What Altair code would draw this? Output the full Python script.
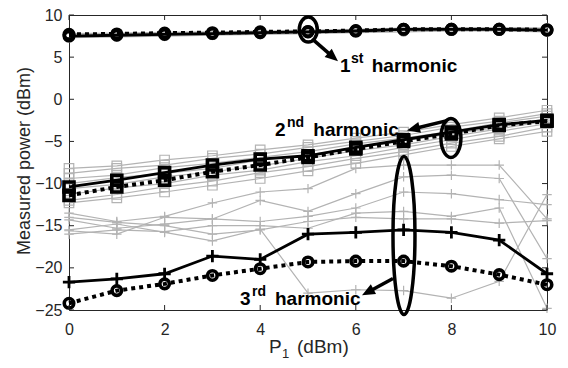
import math
import altair as alt
import pandas as pd

FONT = "Liberation Sans"
GREY = "#b3b3b3"
INK = "#262626"

# ---------------- data ----------------
P1 = [0, 1, 2, 3, 4, 5, 6, 7, 8, 9, 10]
X_TICKS = [0, 2, 4, 6, 8, 10]
Y_TICKS = [-25, -20, -15, -10, -5, 0, 5, 10]

H1_SOLID = [7.5, 7.6, 7.7, 7.8, 7.9, 8.0, 8.1, 8.3, 8.3, 8.3, 8.2]
H1_DOTTED = [7.7, 7.75, 7.85, 7.9, 8.0, 8.05, 8.15, 8.3, 8.3, 8.3, 8.25]
H2_SOLID = [-10.4, -9.6, -8.7, -7.8, -7.1, -6.7, -5.7, -4.8, -3.9, -3.0, -2.5]
H2_DOTTED = [-11.4, -10.4, -9.6, -8.6, -7.8, -6.9, -5.9, -5.0, -4.1, -3.1, -2.6]
H3_SOLID = [-21.7, -21.3, -20.7, -18.6, -19.0, -16.0, -15.8, -15.5, -15.8, -16.7, -20.7]
H3_DOTTED = [-24.2, -22.7, -21.9, -20.9, -20.1, -19.3, -19.2, -19.2, -19.8, -20.8, -22.0]

H1_GREY = [
    [7.3, 7.4, 7.5, 7.6, 7.7, 7.8, 7.9, 8.0, 8.1, 8.1, 8.0],
    [7.6, 7.7, 7.8, 7.9, 8.0, 8.1, 8.2, 8.35, 8.4, 8.4, 8.3],
    [7.8, 7.85, 7.95, 8.0, 8.1, 8.2, 8.3, 8.45, 8.5, 8.5, 8.45],
    [7.4, 7.5, 7.6, 7.7, 7.8, 7.9, 8.0, 8.2, 8.2, 8.2, 8.1],
]
H2_GREY = [
    [-8.2, -7.9, -7.2, -6.7, -6.0, -5.4, -4.6, -3.9, -3.0, -2.2, -1.3],
    [-8.8, -8.2, -7.8, -7.0, -6.5, -5.7, -5.0, -4.3, -3.3, -2.6, -1.7],
    [-9.4, -9.0, -8.1, -7.6, -6.9, -6.2, -5.3, -4.6, -3.8, -2.8, -2.0],
    [-10.0, -9.3, -8.8, -8.2, -7.2, -6.6, -5.8, -4.9, -4.1, -3.3, -2.3],
    [-10.6, -10.1, -9.2, -8.6, -7.9, -7.0, -6.1, -5.4, -4.4, -3.5, -2.6],
    [-11.3, -10.5, -10.0, -9.0, -8.4, -7.4, -6.7, -5.7, -4.8, -3.8, -2.9],
    [-12.0, -11.3, -10.4, -9.7, -8.7, -8.0, -7.0, -6.2, -5.2, -4.4, -3.3],
    [-12.3, -11.7, -11.0, -10.2, -9.4, -8.5, -7.6, -6.6, -5.6, -4.7, -3.8],
]
H3_GREY = [
    [-13.5, -14.5, -13.9, -12.3, -11.0, -10.6, -8.2, -7.8, -7.8, -7.8, -14.2],
    [-14.3, -15.3, -14.8, -14.2, -12.0, -13.3, -11.2, -9.2, -9.0, -9.4, -18.9],
    [-15.5, -14.8, -15.8, -16.8, -15.4, -23.0, -22.6, -22.7, -23.6, -21.6, -11.3],
    [-15.6, -16.0, -14.0, -14.2, -14.5, -13.9, -12.9, -11.0, -11.2, -11.9, -12.5],
    [-16.0, -15.5, -15.7, -15.0, -15.0, -15.3, -13.5, -13.3, -13.9, -12.9, -24.8],
    [-14.0, -14.6, -15.0, -16.0, -15.5, -14.5, -14.0, -14.2, -14.2, -14.7, -14.4],
]

# annotations (data coordinates)
ANN_NUM = ["1", "2", "3"]
ANN_SUP = ["st", "nd", "rd"]
ANN_NUM_X = [5.669, 4.310, 3.577]
ANN_SUP_X = [5.900, 4.560, 3.827]
ANN_WORD_X = [6.333, 5.111, 4.310]
ANN_Y = [3.29, -4.32, -24.43]
ANN_SUP_Y = [4.32, -3.29, -23.37]

ELL_X = [5.006, 7.99, 7.008]
ELL_Y = [8.27, -4.58, -16.17]
ELL_RX = [9, 10, 11]
ELL_RY = [12.5, 19.5, 79]

ARR_X = [5.105, 7.908, 6.778]
ARR_Y = [7.07, -2.53, -21.26]
ARR_X2 = [5.628, 7.071, 6.13]
ARR_Y2 = [4.50, -3.70, -23.26]

# ---------------- layout ----------------
W, H = 478, 295
SX = W / 10.0
SY = H / 35.0

xs = alt.Scale(domain=[0, 10], nice=False, zero=False)
ys = alt.Scale(domain=[-25, 10], nice=False, zero=False)

x_axis = alt.Axis(values=X_TICKS, ticks=False, domain=False, grid=False,
                  labelFontSize=16, labelFont=FONT, labelColor=INK,
                  labelPadding=11, labelFlush=False, labelOverlap=False,
                  title=None)
y_axis = alt.Axis(values=Y_TICKS, ticks=False, domain=False, grid=False,
                  labelFontSize=16, labelFont=FONT, labelColor=INK,
                  labelPadding=7, labelFlush=False, labelOverlap=False,
                  title="Measured power (dBm)", titleFontSize=18,
                  titleFont=FONT, titleFontWeight="normal", titleColor=INK,
                  titleX=-45, titleY=H / 2 - 2, titleAngle=270,
                  titleBaseline="middle", titleAlign="center")


def X(field):
    return alt.X(f"{field}:Q", scale=xs, axis=x_axis)


def Y(field):
    return alt.Y(f"{field}:Q", scale=ys, axis=y_axis)


def long(rows, name):
    recs = []
    for i, r in enumerate(rows):
        for p, v in zip(P1, r):
            recs.append({"p1": p, "power": v, "series": f"{name}{i}"})
    return pd.DataFrame(recs)


def single(vals):
    return pd.DataFrame({"p1": P1, "power": vals})


CROSS = "M-1,0L1,0M0,-1L0,1"

layers = []

# grey measurements
for rows, name, shape, size in [
    (H1_GREY, "a", "circle", 80),
    (H2_GREY, "b", "square", 90),
    (H3_GREY, "c", CROSS, 90),
]:
    df = long(rows, name)
    layers.append(alt.Chart(df).mark_line(color=GREY, strokeWidth=1.2).encode(
        x=X("p1"), y=Y("power"), detail="series:N"))
    layers.append(alt.Chart(df).mark_point(shape=shape, size=size, filled=False,
                                           color=GREY, strokeWidth=1.2, opacity=1).encode(
        x=X("p1"), y=Y("power")))

# black solid / dotted
for vals, dotted, shape, size in [
    (H1_SOLID, False, "circle", 90), (H1_DOTTED, True, "circle", 90),
    (H2_SOLID, False, "square", 100), (H2_DOTTED, True, "square", 100),
    (H3_SOLID, False, CROSS, 150), (H3_DOTTED, True, "circle", 90),
]:
    df = single(vals)
    if dotted:
        ln = alt.Chart(df).mark_line(color="black", strokeWidth=4, strokeDash=[4, 4], strokeCap="butt")
    else:
        ln = alt.Chart(df).mark_line(color="black", strokeWidth=2.8)
    layers.append(ln.encode(x=X("p1"), y=Y("power")))
    layers.append(alt.Chart(df).mark_point(shape=shape, size=size, filled=False, color="black",
                                           strokeWidth=3.6 if shape != CROSS else 2.8,
                                           opacity=1).encode(x=X("p1"), y=Y("power")))

# inner ticks
xt = pd.DataFrame({"t": X_TICKS})
yt = pd.DataFrame({"t": Y_TICKS})
layers.append(alt.Chart(xt).mark_rule(color=INK, strokeWidth=1).encode(
    x=X("t"), y=alt.value(H), y2=alt.value(H - 5)))
layers.append(alt.Chart(xt).mark_rule(color=INK, strokeWidth=1).encode(
    x=X("t"), y=alt.value(0), y2=alt.value(5)))
layers.append(alt.Chart(yt).mark_rule(color=INK, strokeWidth=1).encode(
    y=Y("t"), x=alt.value(0), x2=alt.value(5)))
layers.append(alt.Chart(yt).mark_rule(color=INK, strokeWidth=1).encode(
    y=Y("t"), x=alt.value(W), x2=alt.value(W - 5)))


# ellipses
def ellipse_path(a):
    k = 0.5523
    f = lambda v: f"{v:.4f}"
    return (f"M{f(a)},0C{f(a)},{f(k)} {f(k*a)},1 0,1"
            f"C{f(-k*a)},1 {f(-a)},{f(k)} {f(-a)},0"
            f"C{f(-a)},{f(-k)} {f(-k*a)},-1 0,-1"
            f"C{f(k*a)},-1 {f(a)},{f(-k)} {f(a)},0Z")


ell = pd.DataFrame({
    "ex": ELL_X, "ey": ELL_Y,
    "path": [ellipse_path(rx / ry) for rx, ry in zip(ELL_RX, ELL_RY)],
    "sz": [(2 * ry) ** 2 for ry in ELL_RY],
})
layers.append(alt.Chart(ell).mark_point(filled=False, color="black", strokeWidth=3.5, opacity=1).encode(
    x=X("ex"), y=Y("ey"), shape=alt.Shape("path:N", scale=None), size=alt.Size("sz:Q", scale=None)))

# arrows
HEAD = 13
ang, sx_end, sy_end = [], [], []
for x1, y1, x2, y2 in zip(ARR_X, ARR_Y, ARR_X2, ARR_Y2):
    dxp = (x2 - x1) * SX
    dyp = -(y2 - y1) * SY
    L = math.hypot(dxp, dyp)
    ang.append(math.degrees(math.atan2(dyp, dxp)) % 360)
    back = HEAD * 0.7
    sx_end.append(x2 - back * dxp / L / SX)
    sy_end.append(y2 + back * dyp / L / SY)
arr = pd.DataFrame({"ax": ARR_X, "ay": ARR_Y, "ax2": sx_end, "ay2": sy_end,
                    "hx": ARR_X2, "hy": ARR_Y2, "ang": ang})
layers.append(alt.Chart(arr).mark_rule(color="black", strokeWidth=3.5).encode(
    x=X("ax"), y=Y("ay"), x2="ax2:Q", y2="ay2:Q"))
layers.append(alt.Chart(arr).mark_point(shape="M0,0L-1,-0.42L-1,0.42Z", size=(2 * HEAD) ** 2,
                                        filled=True, color="black", opacity=1).encode(
    x=X("hx"), y=Y("hy"), angle=alt.Angle("ang:Q", scale=None)))

# annotation text
ann = pd.DataFrame({"num": ANN_NUM, "sup": ANN_SUP, "nx": ANN_NUM_X, "sx": ANN_SUP_X,
                    "wx": ANN_WORD_X, "ny": ANN_Y, "sy": ANN_SUP_Y,
                    "word": ["harmonic"] * 3})
txt = dict(align="left", baseline="alphabetic", fontWeight="bold", font=FONT, color="black")
layers.append(alt.Chart(ann).mark_text(fontSize=19, **txt).encode(x=X("nx"), y=Y("ny"), text="num:N"))
layers.append(alt.Chart(ann).mark_text(fontSize=14, **txt).encode(x=X("sx"), y=Y("sy"), text="sup:N"))
layers.append(alt.Chart(ann).mark_text(fontSize=19, **txt).encode(x=X("wx"), y=Y("ny"), text="word:N"))

# x-axis title with subscript
tt = dict(align="left", baseline="alphabetic", font=FONT, color=INK)
layers.append(alt.Chart().mark_text(text="P", fontSize=19, **tt).encode(x=alt.value(200), y=alt.value(338)))
layers.append(alt.Chart().mark_text(text="1", fontSize=13, **tt).encode(x=alt.value(213), y=alt.value(343)))
layers.append(alt.Chart().mark_text(text="(dBm)", fontSize=19, **tt).encode(x=alt.value(228), y=alt.value(338)))

chart = alt.layer(*layers).properties(
    width=W, height=H,
    autosize=alt.AutoSizeParams(type="none"),
    padding={"left": 61, "top": 7, "right": 13, "bottom": 50},
).configure_view(stroke=INK, strokeWidth=1)

chart.save("out.html", embed_options={"renderer": "svg", "actions": False})
